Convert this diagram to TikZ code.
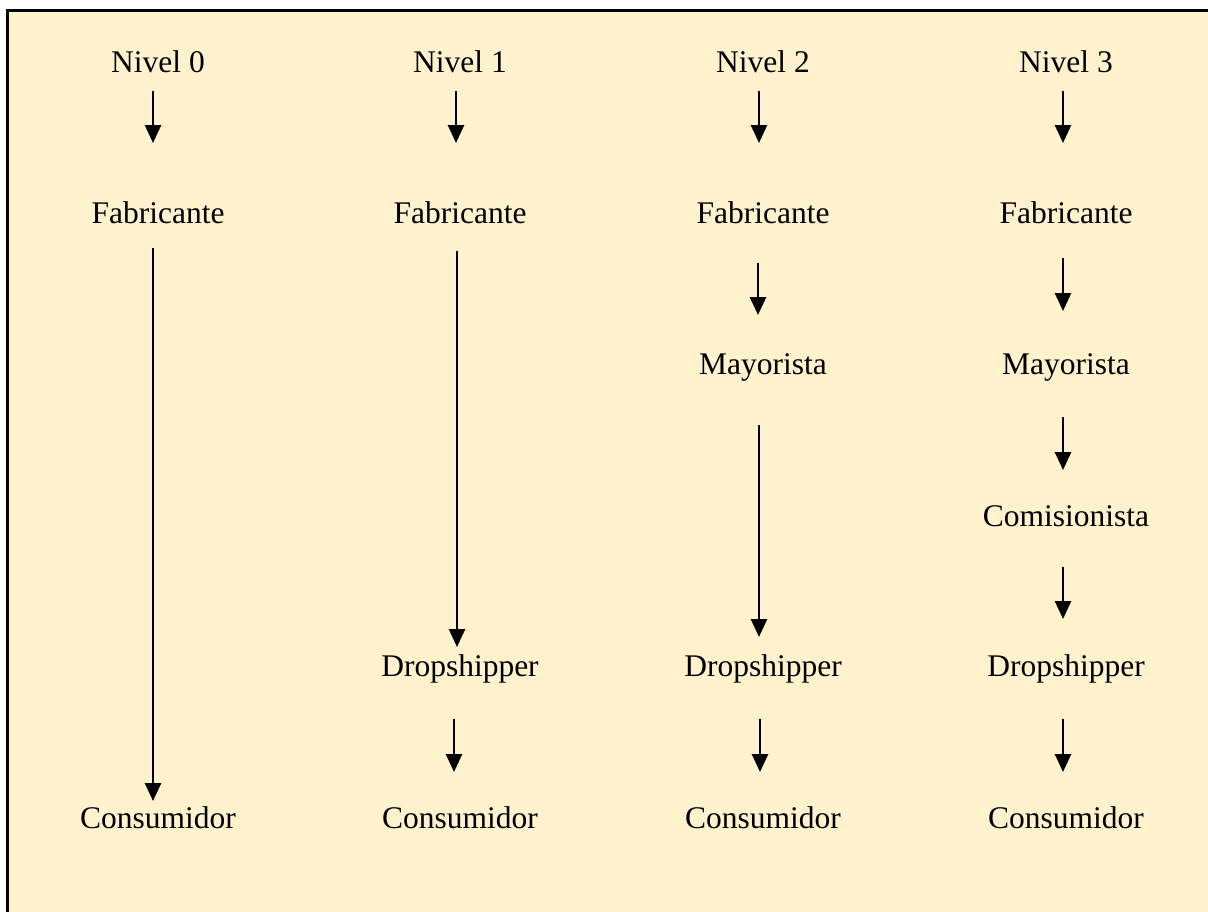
\documentclass[tikz,border=0pt]{standalone}
\usepackage{fontspec}
\setmainfont{Liberation Serif}
\usetikzlibrary{arrows.meta,calc}
\definecolor{panel}{HTML}{FFF2CC}
\begin{document}
\begin{tikzpicture}[x=1pt,y=-1pt,
  lbl/.style={inner sep=0pt,anchor=base,font=\fontsize{31.5}{38}\selectfont},
  flow/.style={line width=2.7pt,-{Triangle[width=16pt,length=18pt]}}]
  % page and panel; the panel runs past the right and bottom edges
  \useasboundingbox (0,0) rectangle (1208,911);
  \clip (0,0) rectangle (1208,911);
  \fill[white] (0,0) rectangle (1208,911);
  \fill[panel] (7,10) rectangle (1300,1000);
  \draw[line width=3pt] (7,1000) -- (7,10) -- (1300,10);

  % column 0
  \node[lbl] (n0) at (158,72)  {Nivel 0};
  \node[lbl] (f0) at (158,223) {Fabricante};
  \node[lbl] (c0) at (158,828) {Consumidor};
  % column 1
  \node[lbl] (n1) at (460,72)  {Nivel 1};
  \node[lbl] (f1) at (460,223) {Fabricante};
  \node[lbl] (d1) at (460,676) {Dropshipper};
  \node[lbl] (c1) at (460,828) {Consumidor};
  % column 2
  \node[lbl] (n2) at (763,72)  {Nivel 2};
  \node[lbl] (f2) at (763,223) {Fabricante};
  \node[lbl] (m2) at (763,374) {Mayorista};
  \node[lbl] (d2) at (763,676) {Dropshipper};
  \node[lbl] (c2) at (763,828) {Consumidor};
  % column 3
  \node[lbl] (n3) at (1066,72)  {Nivel 3};
  \node[lbl] (f3) at (1066,223) {Fabricante};
  \node[lbl] (m3) at (1066,374) {Mayorista};
  \node[lbl] (k3) at (1066,526) {Comisionista};
  \node[lbl] (d3) at (1066,676) {Dropshipper};
  \node[lbl] (c3) at (1066,828) {Consumidor};

  % arrows, column 0
  \draw[flow] ($(n0.base)+(-5,19)$) -- ($(f0.base)+(-5,-80)$);
  \draw[flow] ($(f0.base)+(-5,25)$) -- ($(c0.base)+(-5,-27)$);
  % arrows, column 1
  \draw[flow] ($(n1.base)+(-4,19)$) -- ($(f1.base)+(-4,-80)$);
  \draw[flow] ($(f1.base)+(-3,28)$) -- ($(d1.base)+(-3,-29)$);
  \draw[flow] ($(d1.base)+(-6,43)$) -- ($(c1.base)+(-6,-56)$);
  % arrows, column 2
  \draw[flow] ($(n2.base)+(-4,19)$) -- ($(f2.base)+(-4,-80)$);
  \draw[flow] ($(f2.base)+(-5,40)$) -- ($(m2.base)+(-5,-59)$);
  \draw[flow] ($(m2.base)+(-4,51)$) -- ($(d2.base)+(-4,-39)$);
  \draw[flow] ($(d2.base)+(-3,43)$) -- ($(c2.base)+(-3,-56)$);
  % arrows, column 3
  \draw[flow] ($(n3.base)+(-3,19)$) -- ($(f3.base)+(-3,-80)$);
  \draw[flow] ($(f3.base)+(-3,35)$) -- ($(m3.base)+(-3,-63)$);
  \draw[flow] ($(m3.base)+(-3,43)$) -- ($(k3.base)+(-3,-56)$);
  \draw[flow] ($(k3.base)+(-3,41)$) -- ($(d3.base)+(-3,-57)$);
  \draw[flow] ($(d3.base)+(-3,43)$) -- ($(c3.base)+(-3,-56)$);
\end{tikzpicture}
\end{document}
